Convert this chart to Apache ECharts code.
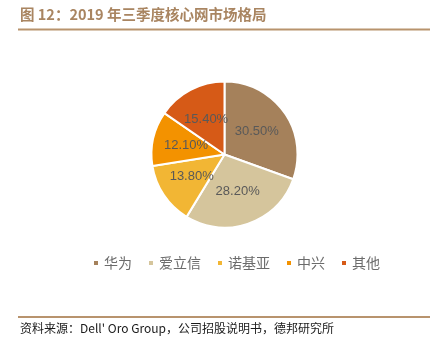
<!DOCTYPE html>
<html>
<head>
<meta charset="utf-8">
<script src="https://cdn.jsdelivr.net/npm/echarts@6/dist/echarts.min.js"></script>
<style>
html,body{margin:0;padding:0;background:#fff;}
#c{width:443px;height:357px;}
</style>
</head>
<body>
<div id="c"></div>
<script>
var titleText = '图 12：2019 年三季度核心网市场格局';
var sourceText = "资料来源：Dell' Oro Group，公司招股说明书，德邦研究所";
var categories = ['华为', '爱立信', '诺基亚', '中兴', '其他'];
var shares = [30.5, 28.2, 13.8, 12.1, 15.4];
var palette = ['#A5815B', '#D5C59C', '#F2B634', '#F39200', '#D65A17'];

var cjk = '"Noto Sans CJK SC", "Liberation Sans", sans-serif';
var chart = echarts.init(document.getElementById('c'), null, {renderer: 'canvas'});
var data = categories.map(function (name, i) {
  return {name: name, value: shares[i], itemStyle: {color: palette[i]}};
});
chart.setOption({
  backgroundColor: '#ffffff',
  animation: false,
  graphic: [
    {type: 'text', left: 20, top: 7.5,
     style: {text: titleText, font: 'bold 14.5px ' + cjk, fill: '#A98561'}},
    {type: 'line', shape: {x1: 18, y1: 29.5, x2: 430, y2: 29.5},
     style: {stroke: '#B8936D', lineWidth: 2}},
    {type: 'line', shape: {x1: 18, y1: 317, x2: 430, y2: 317},
     style: {stroke: '#B8936D', lineWidth: 2}},
    {type: 'text', left: 20, top: 322,
     style: {text: sourceText, font: '12px ' + cjk, fill: '#1a1a1a'}}
  ],
  legend: {
    left: 87, top: 251,
    icon: 'rect', itemWidth: 6, itemHeight: 6, itemGap: 15,
    textStyle: {fontSize: 14, color: '#6b6b6b', fontFamily: cjk},
    data: categories
  },
  series: [{
    type: 'pie',
    center: [224.5, 154.5],
    radius: [0, 73],
    startAngle: 90,
    clockwise: true,
    avoidLabelOverlap: false,
    itemStyle: {borderColor: '#ffffff', borderWidth: 2},
    label: {
      show: true, position: 'inside',
      formatter: function (p) { return p.value.toFixed(2) + '%'; },
      fontSize: 13, color: '#595959', fontFamily: '"Liberation Sans", Arial, sans-serif'
    },
    labelLine: {show: false},
    emphasis: {disabled: true},
    data: data
  }]
});
</script>
</body>
</html>
